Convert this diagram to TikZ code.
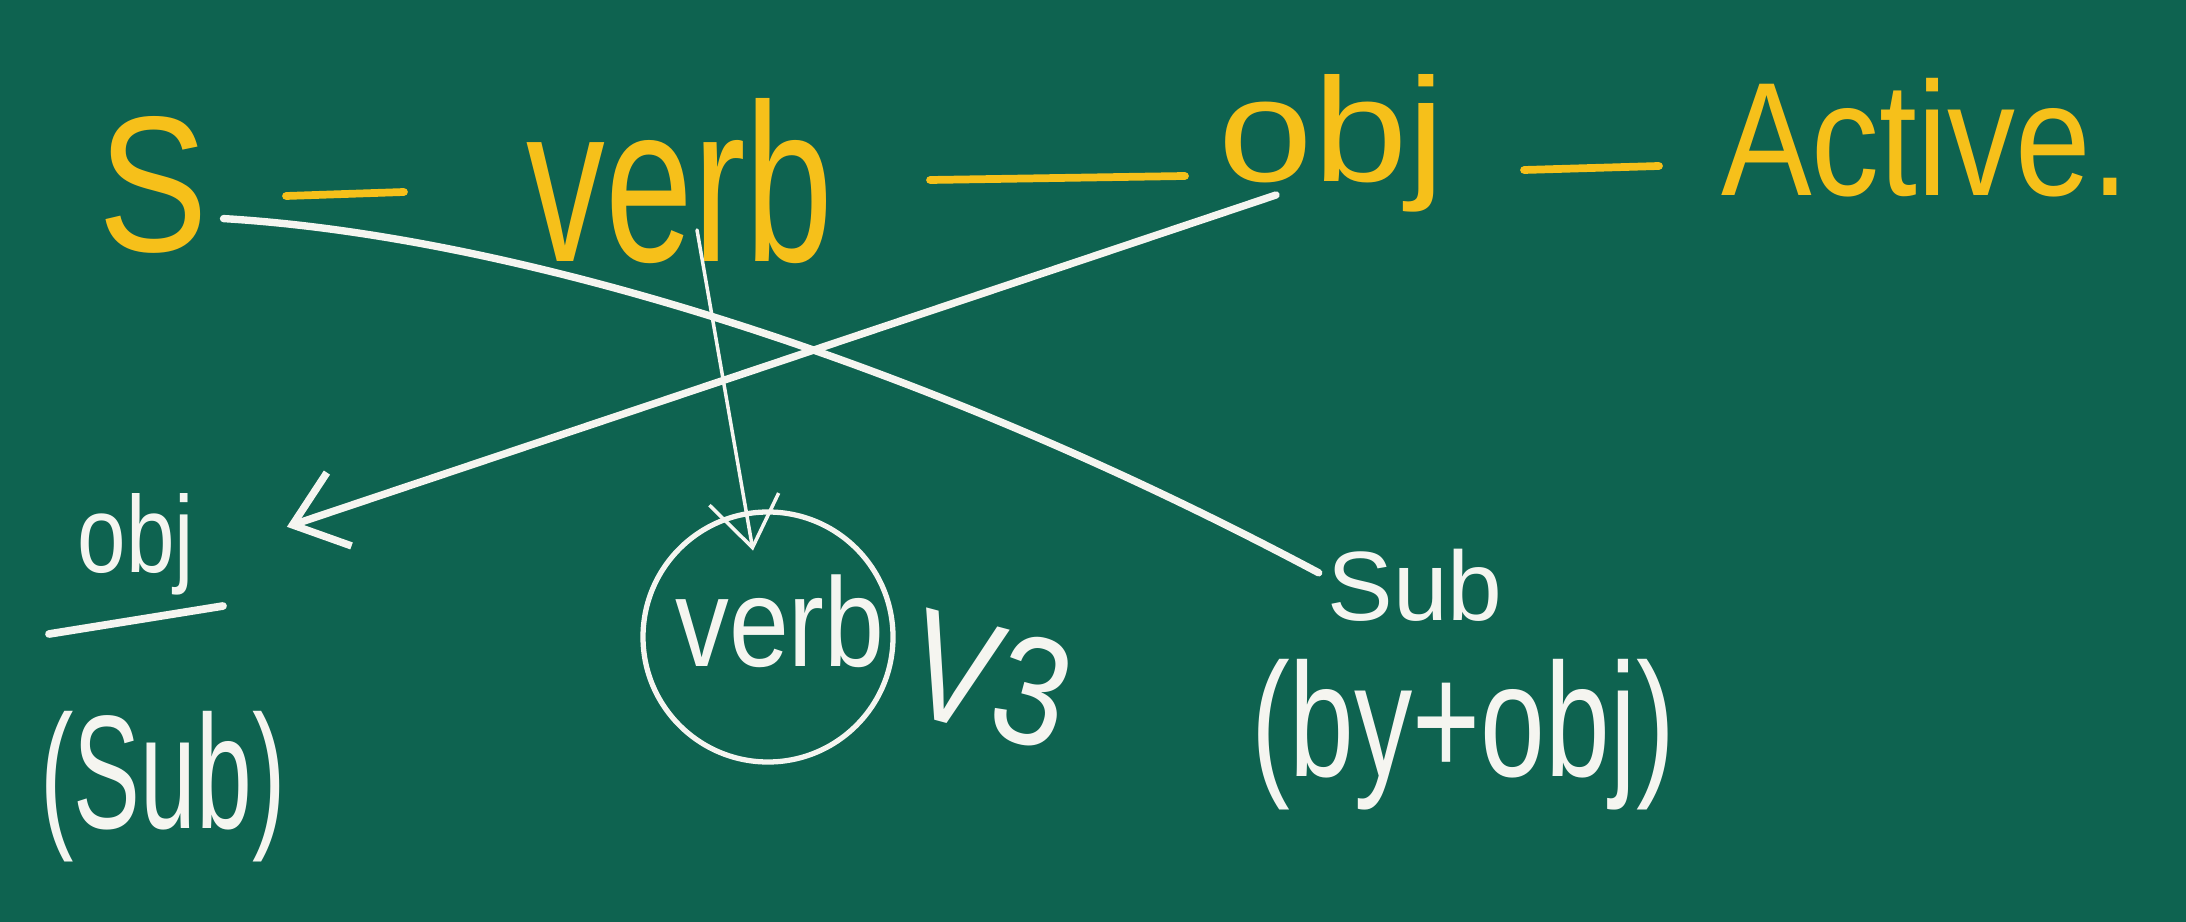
\documentclass[tikz,border=0pt]{standalone}
\usepackage{fontspec}
\usepackage{graphicx}
\setmainfont{Liberation Sans}
\usetikzlibrary{arrows.meta,calc}
\definecolor{board}{RGB}{14,99,80}
\definecolor{chalkY}{RGB}{246,192,26}
\definecolor{chalkW}{RGB}{245,245,240}
\newcommand\fsz[1]{\fontsize{#1}{#1}\selectfont}
\newcommand\sx[2]{\scalebox{#1}[1]{#2}}
\begin{document}
\begin{tikzpicture}[x=0.01cm,y=-0.01cm,
  ytext/.style={text=chalkY, inner sep=0pt, anchor=base},
  wtext/.style={text=chalkW, inner sep=0pt, anchor=base},
  ydash/.style={draw=chalkY, line width=2.2pt, line cap=round},
  wline/.style={draw=chalkW, line width=2.1pt, line cap=round},
  thinline/.style={draw=chalkW, line width=1pt, line cap=round},
  barb/.style={-{Straight Barb[length=14pt,width=22pt]}}
]
\fill[board] (0,0) rectangle (2186,922);
\useasboundingbox (0,0) rectangle (2186,922);

% top row (yellow)
\node[ytext, font=\fsz{55}] (S) at (153,252) {\sx{0.85}{S}};
\node[ytext, font=\fsz{64}] (verbT) at (680,262) {\sx{0.7}{verb}};
\node[ytext, font=\fsz{42}] (objT) at (1332,182) {\sx{1.15}{obj}};
\node[ytext, font=\fsz{46}] (act) at (1925,196) {\sx{0.84}{Active.}};
\draw[ydash] (286,196) -- (404,192);
\draw[ydash] (930,180) -- (1185,176);
\draw[ydash] (1524,170) -- (1659,166);

% bottom (white)
\node[wtext, font=\fsz{31}] (objB) at (136,572) {\sx{0.8}{obj}};
\draw[wline, line width=2.2pt] (49,634) -- (223,606);
\node[wtext, font=\fsz{46}] (subL) at (163,828) {\sx{0.62}{(Sub)}};
\coordinate (circ) at (768,637);
\draw[draw=chalkW, line width=1.5pt] (circ) circle[radius=125];
\node[wtext, font=\fsz{36}] (verbB) at (780,666) {\sx{0.85}{verb}};
\node[text=chalkW, font=\fsz{44}, rotate=-15, inner sep=0pt] (v3) at (990,680) {\sx{0.85}{V3}};
\node[wtext, font=\fsz{28}] (subR) at (1415,620) {Sub};
\node[wtext, font=\fsz{46}] (byobj) at (1463,776) {\sx{0.72}{(by+obj)}};

% connectors
\draw[wline] ($(S.south east)+(15,-36)$) .. controls (500,235) and (900,350) .. ($(subR.west)+(-8,-12)$);
\draw[wline, barb] ($(objT.base)+(-56,13)$) -- ($(objB.east)+(92,-17)$);
\draw[thinline, -{Straight Barb[length=14pt,width=20pt]}] ($(verbT.base)+(17,-32)$) -- ($(verbB.north)+(-27,-23)$);
\end{tikzpicture}
\end{document}
